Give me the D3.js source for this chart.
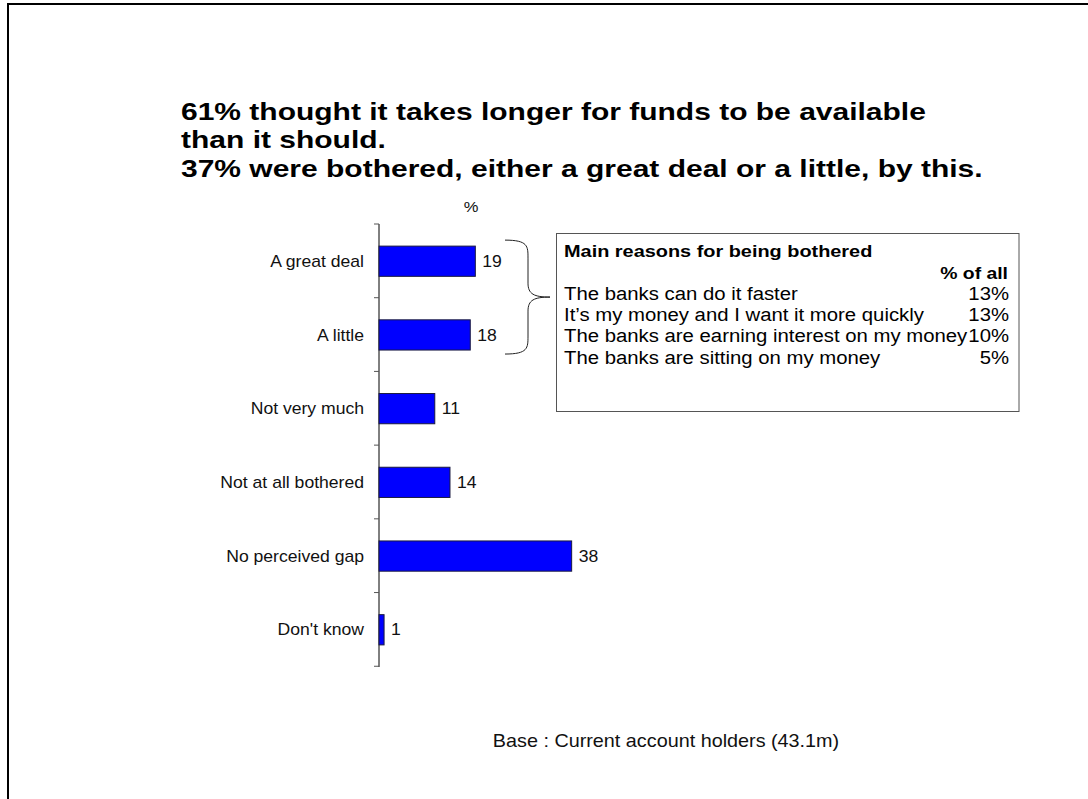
<!DOCTYPE html>
<html>
<head>
<meta charset="utf-8">
<script src="https://cdn.jsdelivr.net/npm/d3@7"></script>
<style>
  html, body { margin: 0; padding: 0; background: #fff; }
  svg { display: block; font-family: Arial, "Liberation Sans", sans-serif; }
</style>
</head>
<body>
<svg id="chart" width="1088" height="799"></svg>
<script>
// Survey responses: how bothered people are by the wait for funds
const categories = ["A great deal", "A little", "Not very much", "Not at all bothered", "No perceived gap", "Don't know"];
const values = [19, 18, 11, 14, 38, 1];

// Reasons panel
const reasons = [
  "The banks can do it faster",
  "It\u2019s my money and I want it more quickly",
  "The banks are earning interest on my money",
  "The banks are sitting on my money"
];
const reasonShares = ["13%", "13%", "10%", "5%"];

const titleLines = [
  "61% thought it takes longer for funds to be available",
  "than it should.",
  "37% were bothered, either a great deal or a little, by this."
];

const svg = d3.select("#chart");

// Text in this layout is set slightly wide; place each label with a horizontal stretch
const placeText = (sel, sx, fx, fy) =>
  sel.attr("transform", (d, i) => `translate(${fx(d, i)},${fy(d, i)}) scale(${sx},1)`);

// Page frame (top and left rules)
svg.append("line").attr("x1", 7).attr("x2", 1088).attr("y1", 4).attr("y2", 4)
  .attr("stroke", "#000").attr("stroke-width", 2);
svg.append("line").attr("x1", 8).attr("x2", 8).attr("y1", 3).attr("y2", 799)
  .attr("stroke", "#000").attr("stroke-width", 2);

// Headline
placeText(
  svg.append("g").selectAll("text").data(titleLines).join("text")
    .attr("font-size", 24).attr("font-weight", "bold").attr("fill", "#000").text(d => d),
  1.25, () => 181, (d, i) => 119.5 + i * 28.7);

// Scales
const x0 = 379;
const x = d3.scaleLinear().domain([0, 40]).range([x0, x0 + 40 * 5.07]);
const y = d3.scaleBand().domain(categories).range([224, 667]).paddingInner(0.59).paddingOuter(0.3);

// Axis line with ticks at band boundaries
const step = y.step();
const boundaries = d3.range(categories.length + 1).map(i => 224 + i * step);
const axisG = svg.append("g");
axisG.append("line").attr("x1", x0).attr("x2", x0).attr("y1", 224).attr("y2", 667)
  .attr("stroke", "#000").attr("stroke-width", 1);
axisG.selectAll("line.tick").data(boundaries).join("line").attr("class", "tick")
  .attr("x1", x0 - 5).attr("x2", x0).attr("y1", d => d).attr("y2", d => d)
  .attr("stroke", "#555").attr("stroke-width", 1);

// Category labels
placeText(
  svg.append("g").selectAll("text").data(categories).join("text")
    .attr("dy", "0.35em").attr("text-anchor", "end")
    .attr("font-size", 16).attr("fill", "#111").text(d => d),
  1.1, () => 364, d => y(d) + y.bandwidth() / 2);

// Bars
svg.append("g").selectAll("rect").data(categories).join("rect")
  .attr("x", x(0)).attr("y", d => y(d))
  .attr("width", (d, i) => x(values[i]) - x(0))
  .attr("height", y.bandwidth())
  .attr("fill", "#0000ff").attr("stroke", "#1a1a40").attr("stroke-width", 1);

// Value labels
placeText(
  svg.append("g").selectAll("text").data(categories).join("text")
    .attr("dy", "0.35em").attr("font-size", 16).attr("fill", "#111")
    .text((d, i) => values[i]),
  1.1, (d, i) => x(values[i]) + 7, d => y(d) + y.bandwidth() / 2);

// Unit label
placeText(
  svg.append("text").datum("%").attr("text-anchor", "middle")
    .attr("font-size", 15).attr("fill", "#111").text(d => d),
  1.1, () => 471, () => 211.5);

// Brace grouping the first two bars
const bTop = y(categories[0]) - 6, bBot = y(categories[1]) + y.bandwidth() + 4;
const bMid = (bTop + bBot) / 2;
const bx0 = 505, bx1 = 528, bx2 = 550;
const brace = d3.path();
brace.moveTo(bx0, bTop);
brace.bezierCurveTo(bx1, bTop, bx1, bTop + 6, bx1, bTop + 18);
brace.lineTo(bx1, bMid - 14);
brace.bezierCurveTo(bx1, bMid - 3, bx1 + 6, bMid, bx2, bMid);
brace.moveTo(bx0, bBot);
brace.bezierCurveTo(bx1, bBot, bx1, bBot - 6, bx1, bBot - 18);
brace.lineTo(bx1, bMid + 14);
brace.bezierCurveTo(bx1, bMid + 3, bx1 + 6, bMid, bx2, bMid);
svg.append("path").attr("d", brace.toString()).attr("fill", "none")
  .attr("stroke", "#222").attr("stroke-width", 1);

// Reasons box
const box = svg.append("g");
box.append("rect").attr("x", 556.5).attr("y", 233.5).attr("width", 462.5).attr("height", 178)
  .attr("fill", "#fff").attr("stroke", "#555").attr("stroke-width", 1);
placeText(
  box.append("text").datum("Main reasons for being bothered")
    .attr("font-size", 17).attr("font-weight", "bold").attr("fill", "#000").text(d => d),
  1.17, () => 564, () => 256.5);
placeText(
  box.append("text").datum("% of all").attr("text-anchor", "end")
    .attr("font-size", 17).attr("font-weight", "bold").attr("fill", "#000").text(d => d),
  1.14, () => 1008, () => 279);
placeText(
  box.selectAll("text.reason").data(reasons).join("text").attr("class", "reason")
    .attr("font-size", 18).attr("fill", "#000").text(d => d),
  1.13, () => 564, (d, i) => 299.5 + i * 21.4);
placeText(
  box.selectAll("text.share").data(reasonShares).join("text").attr("class", "share")
    .attr("text-anchor", "end").attr("font-size", 18).attr("fill", "#000").text(d => d),
  1.13, () => 1009, (d, i) => 299.5 + i * 21.4);

// Base note
placeText(
  svg.append("text").datum("Base : Current account holders (43.1m)").attr("text-anchor", "middle")
    .attr("font-size", 18).attr("fill", "#111").text(d => d),
  1.1, () => 666, () => 747);
</script>
</body>
</html>
